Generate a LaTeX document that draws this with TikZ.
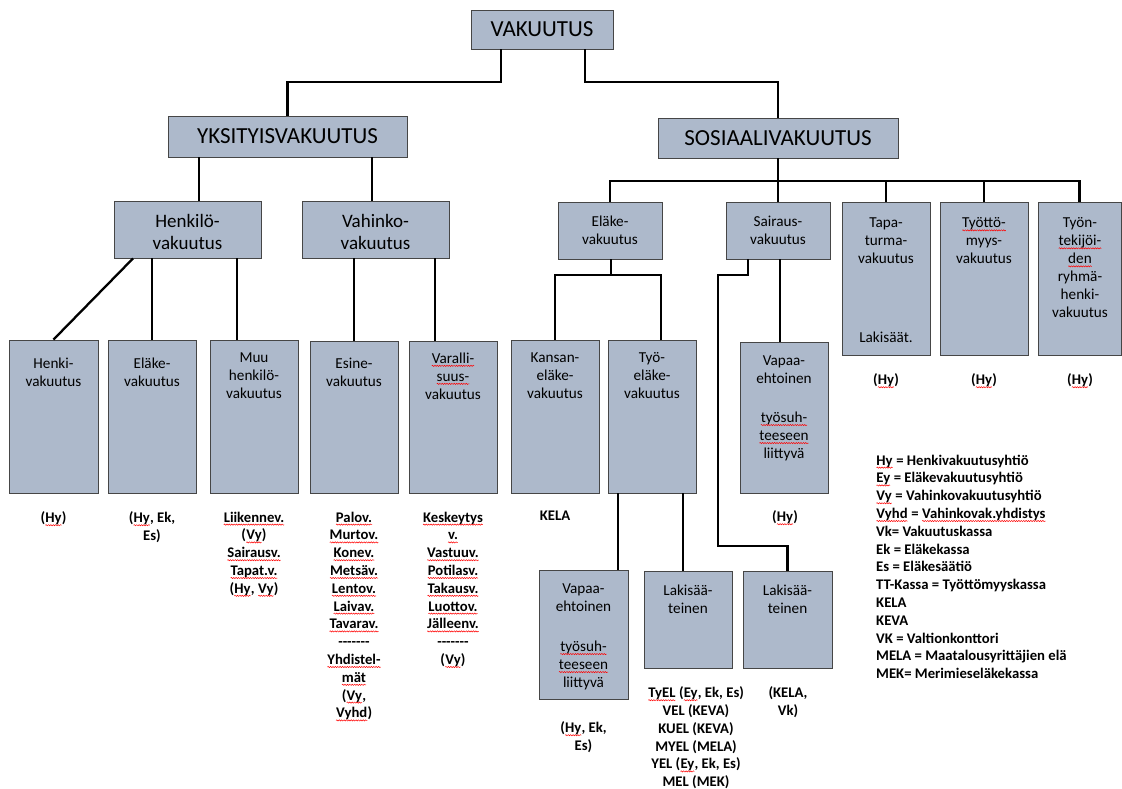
\documentclass[tikz,border=0pt]{standalone}
\usepackage{fontspec}
\setmainfont{Carlito}
\usetikzlibrary{decorations.pathmorphing}
\newcommand\sq[1]{\tikz[baseline=(w.base)]{\node[inner sep=0pt,outer sep=0pt,anchor=base] (w) {#1};\draw[red, line width=0.5pt, decorate, decoration={snake, amplitude=0.6pt, segment length=2.4pt}] ([yshift=-2.6pt]w.base west) -- ([yshift=-2.6pt]w.base east);}}
\newcommand\dashrow{\hbox{-}\hbox{-}\hbox{-}\hbox{-}\hbox{-}\hbox{-}\hbox{-}}
\definecolor{boxfill}{RGB}{173,185,203}
\definecolor{boxdraw}{RGB}{70,70,70}
\newcommand\mkbox[5]{\node[box, minimum width={#4-#2}, minimum height={#5-#3}] (#1) at ({(#2+#4)/2},{(#3+#5)/2}) {};}
\begin{document}
\begin{tikzpicture}[x=1pt,y=-1pt,
 box/.style={draw=boxdraw, fill=boxfill, line width=0.9pt, inner sep=0pt},
 conn/.style={line width=2.3pt, black},
 big/.style={inner sep=0pt, font=\fontsize{23}{27}\selectfont},
 mid/.style={align=center, inner sep=0pt, font=\fontsize{19}{22}\selectfont},
 txt/.style={align=center, inner sep=0pt, anchor=north, font=\fontsize{15.2}{18}\selectfont},
 lbl/.style={align=center, inner sep=0pt, anchor=north, font=\bfseries\fontsize{14.7}{17.8}\selectfont},
]
\useasboundingbox (0,0) rectangle (1122,789);
% boxes
\mkbox{vak}{471}{10}{613}{49}
\mkbox{yks}{168}{116}{407}{157}
\mkbox{sos}{658}{118}{898}{158}
\mkbox{henkilo}{114}{201}{261}{258}
\mkbox{vahinko}{302}{201}{449}{258}
\mkbox{elake}{558}{202}{662}{259}
\mkbox{sairaus}{726}{202}{830}{259}
\mkbox{tapa}{842}{202}{930}{355}
\mkbox{tyott}{940}{202}{1028}{355}
\mkbox{tyont}{1038}{202}{1121}{355}
\mkbox{henki}{9}{340}{98}{493}
\mkbox{elakeY}{108}{340}{196}{493}
\mkbox{muu}{210}{340}{298}{493}
\mkbox{esine}{310}{341}{398}{493}
\mkbox{varall}{409}{341}{497}{493}
\mkbox{kansan}{511}{340}{599}{493}
\mkbox{tyoel}{608}{340}{696}{493}
\mkbox{vapaaS}{740}{342}{828}{493}
\mkbox{vapaaT}{539}{570}{628}{699}
\mkbox{lakiT}{644}{571}{732}{668}
\mkbox{lakiS}{743}{571}{832}{668}
% box texts
\node[big] (vakT) at (vak) {VAKUUTUS};
\node[big] (yksT) at (yks) {YKSITYISVAKUUTUS};
\node[big] (sosT) at (sos) {SOSIAALIVAKUUTUS};
\node[mid] (henkiloT) at ([yshift=-2pt]henkilo.center) {Henkilö-\\vakuutus};
\node[mid] (vahinkoT) at ([yshift=-2pt]vahinko.center) {Vahinko-\\vakuutus};
\node[txt, anchor=center] (elakeT) at (elake) {Eläke-\\vakuutus};
\node[txt, anchor=center] (sairausT) at (sairaus) {Sairaus-\\vakuutus};
\node[txt] (tapaT) at (886,217.5) {Tapa-\\turma-\\vakuutus};
\node[txt] (tapaL) at (886,331.5) {Lakisäät.};
\node[txt] (tyottT) at (984,217.5) {\sq{Työttö-}\\myys-\\vakuutus};
\node[txt] (tyontT) at (1080,217.5) {Työn-\\\sq{tekijöi-}\\\sq{den}\\ryhmä-\\henki-\\vakuutus};
\node[txt] (henkiT) at (53.5,357.5) {Henki-\\vakuutus};
\node[txt] (elakeYT) at (152,357.5) {Eläke-\\vakuutus};
\node[txt] (muuT) at (254,352.5) {Muu\\henkilö-\\vakuutus};
\node[txt] (esineT) at (354,357.5) {Esine-\\vakuutus};
\node[txt] (varallT) at (453,352.5) {\sq{Varalli-}\\\sq{suus-}\\vakuutus};
\node[txt] (kansanT) at (555,352.5) {Kansan-\\eläke-\\vakuutus};
\node[txt] (tyoelT) at (652,352.5) {Työ-\\eläke-\\vakuutus};
\node[txt] (vapaaST) at (784,355.5) {Vapaa-\\ehtoinen\\[21pt]\sq{työsuh-}\\\sq{teeseen}\\liittyvä};
\node[txt] (vapaaTT) at (583.5,583.5) {Vapaa-\\ehtoinen\\[22pt]\sq{työsuh-}\\\sq{teeseen}\\liittyvä};
\node[txt] (lakiTT) at (688,584.5) {Lakisää-\\teinen};
\node[txt] (lakiST) at (787.5,584.5) {Lakisää-\\teinen};
% labels below
\node[lbl] (l1) at (53.5,511.5) {(\sq{Hy})};
\node[lbl] (l2) at (152,511.5) {(\sq{Hy}, Ek,\\Es)};
\node[lbl] (l3) at (254,511.5) {\sq{Liikennev.}\\(\sq{Vy})\\\sq{Sairausv.}\\\sq{Tapat.v.}\\(\sq{Hy}, \sq{Vy})};
\node[lbl] (l4) at (354,511.5) {\sq{Palov.}\\\sq{Murtov.}\\\sq{Konev.}\\\sq{Metsäv.}\\\sq{Lentov.}\\\sq{Laivav.}\\\sq{Tavarav.}\\\dashrow\\\sq{Yhdistel-}\\\sq{mät}\\(\sq{Vy},\\\sq{Vyhd})};
\node[lbl] (l5) at (453,511.5) {\sq{Keskeytys}\\\sq{v.}\\\sq{Vastuuv.}\\\sq{Potilasv.}\\\sq{Takausv.}\\\sq{Luottov.}\\\sq{Jälleenv.}\\\dashrow\\(\sq{Vy})};
\node[lbl] (l6) at (555,510.5) {KELA};
\node[lbl] (l7) at (785,510.5) {(\sq{Hy})};
\node[lbl] (l8) at (583.5,721.5) {(\sq{Hy}, Ek,\\Es)};
\node[lbl] (l9) at (696,686.5) {\sq{TyEL} (\sq{Ey}, Ek, Es)\\VEL (KEVA)\\KUEL (KEVA)\\MYEL (MELA)\\YEL (\sq{Ey}, Ek, Es)\\MEL (MEK)};
\node[lbl] (l10) at (788,686.5) {(KELA,\\Vk)};
\node[lbl] (l11) at (886,373.5) {(\sq{Hy})};
\node[lbl] (l12) at (984,373.5) {(\sq{Hy})};
\node[lbl] (l13) at (1080,373.5) {(\sq{Hy})};
\node[lbl, anchor=north west, align=left] (legend) at (876,454.5) {\sq{Hy} = Henkivakuutusyhtiö\\\sq{Ey} = Eläkevakuutusyhtiö\\\sq{Vy} = Vahinkovakuutusyhtiö\\\sq{Vyhd} = \sq{Vahinkovak.yhdistys}\\Vk= Vakuutuskassa\\Ek = Eläkekassa\\Es = Eläkesäätiö\\TT-Kassa = Työttömyyskassa\\KELA\\KEVA\\VK = Valtionkonttori\\MELA = Maatalousyrittäjien elä\\MEK= Merimieseläkekassa};
% connectors
\coordinate (j1) at (501,82);
\coordinate (j2) at (585,82);
\draw[conn] (j1 |- vak.south) -- (j1) -| (yks.north);
\draw[conn] (j2 |- vak.south) -- (j2) -| (sos.north);
\coordinate (a1) at (199,0);
\coordinate (a2) at (372,0);
\draw[conn] (a1 |- yks.south) -- (a1 |- henkilo.north);
\draw[conn] (a2 |- yks.south) -- (a2 |- vahinko.north);
\coordinate (bus) at (0,181);
\draw[conn] (sos.south) -- (sos.south |- bus);
\draw[conn] (elake.north) -- (elake.north |- bus) -- (tyont.north |- bus) -- (tyont.north);
\draw[conn] (sairaus.north |- bus) -- (sairaus.north);
\draw[conn] (tapa.north |- bus) -- (tapa.north);
\draw[conn] (tyott.north |- bus) -- (tyott.north);
\coordinate (b1) at (133,0);
\coordinate (b2) at (237,0);
\coordinate (b3) at (435,0);
\draw[conn] (b1 |- henkilo.south) -- (henki.north);
\draw[conn] (elakeY.north |- henkilo.south) -- (elakeY.north);
\draw[conn] (b2 |- henkilo.south) -- (b2 |- muu.north);
\draw[conn] (esine.north |- vahinko.south) -- (esine.north);
\draw[conn] (b3 |- vahinko.south) -- (b3 |- varall.north);
\coordinate (e1) at (611,275);
\coordinate (e2) at (661,0);
\draw[conn] (e1 |- elake.south) -- (e1);
\draw[conn] (kansan.north) |- (e2 |- e1) -- (e2 |- tyoel.north);
\coordinate (s1) at (748,275);
\coordinate (s2) at (718,546);
\coordinate (s3) at (780,0);
\draw[conn] (s1 |- sairaus.south) -- (s1) -| (s2) -| (lakiS.north);
\draw[conn] (s3 |- sairaus.south) -- (s3 |- vapaaS.north);
\coordinate (t1) at (618,0);
\coordinate (t2) at (683,0);
\draw[conn] (t1 |- tyoel.south) -- (t1 |- vapaaT.north);
\draw[conn] (t2 |- tyoel.south) -- (t2 |- lakiT.north);
\end{tikzpicture}
\end{document}
